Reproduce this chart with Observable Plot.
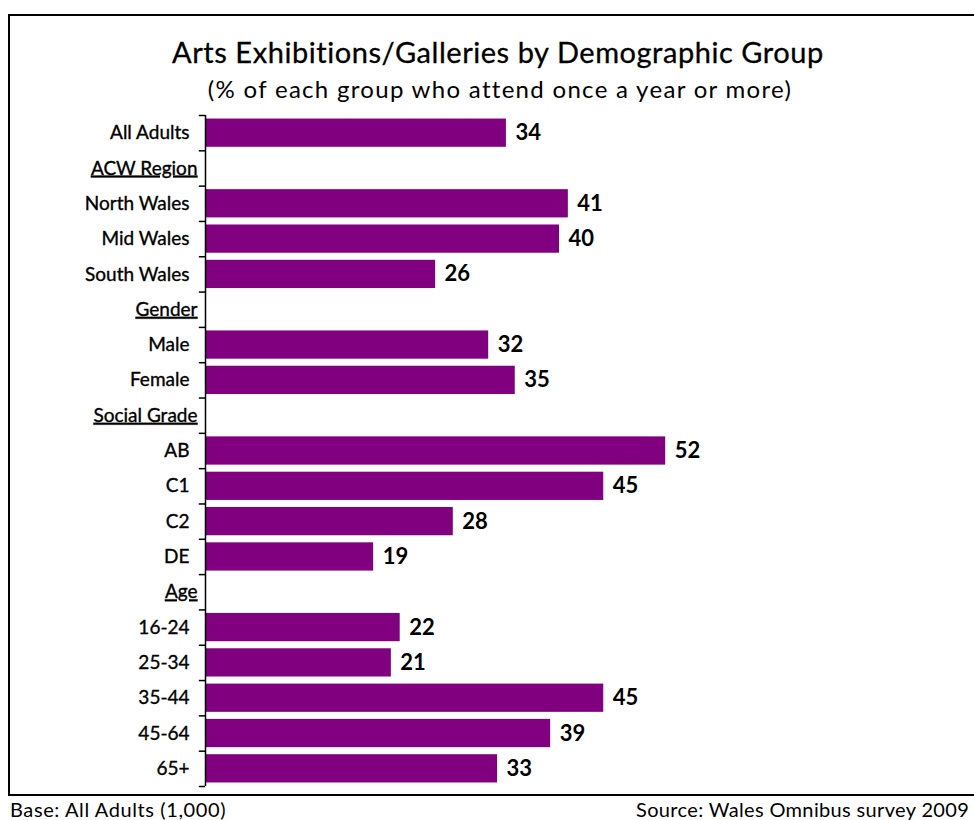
<!DOCTYPE html>
<html>
<head>
<meta charset="utf-8">
<script src="https://cdn.jsdelivr.net/npm/d3@7"></script>
<script src="https://cdn.jsdelivr.net/npm/@observablehq/plot@0.6"></script>
<style>
  body { margin: 0; background: #fff; font-family: Lato, "Noto Sans", sans-serif; }
  #wrap { position: relative; width: 974px; height: 820px; overflow: hidden; background: #fff; }
  #frame { position: absolute; left: 8px; top: 14px; width: 1000px; height: 782px; border: 2px solid #000; box-sizing: border-box; }
  #title { position: absolute; left: 0; width: 996px; top: 37px; text-align: center; font-size: 29px; line-height: 29px; letter-spacing: 0.55px; color: #000; -webkit-text-stroke: 0.3px #000; }
  #subtitle { position: absolute; left: 0; width: 1000px; top: 77px; text-align: center; font-size: 24px; line-height: 24px; letter-spacing: 1.3px; color: #000; }
  #base { position: absolute; left: 10px; top: 799px; font-size: 20px; line-height: 20px; letter-spacing: 0.6px; color: #000; }
  #source { position: absolute; left: 636px; top: 799px; font-size: 20px; line-height: 20px; letter-spacing: 0.35px; color: #000; white-space: nowrap; }
  #chart { position: absolute; left: 0; top: 0; }
  g[aria-description="header"] text { text-decoration: underline; }
</style>
</head>
<body>
<div id="wrap">
  <div id="frame"></div>
  <div id="title">Arts Exhibitions/Galleries by Demographic Group</div>
  <div id="subtitle">(% of each group who attend once a year or more)</div>
  <div id="chart"></div>
  <div id="base">Base: All Adults (1,000)</div>
  <div id="source">Source: Wales Omnibus survey 2009</div>
</div>
<script>
const categories = ["All Adults","ACW Region","North Wales","Mid Wales","South Wales","Gender","Male","Female","Social Grade","AB","C1","C2","DE","Age","16-24","25-34","35-44","45-64","65+"];
const values = [34,null,41,40,26,null,32,35,null,52,45,28,19,null,22,21,45,39,33];
const headers = ["ACW Region","Gender","Social Grade","Age"];

const rows = categories.map((c, i) => ({category: c, value: values[i], header: headers.includes(c)}));
const barRows = rows.filter(d => d.value != null);
const itemRows = rows.filter(d => !d.header);
const headerRows = rows.filter(d => d.header);

const W = 974, H = 820, mTop = 115, mBottom = 34, mLeft = 205, mRight = 61;
const step = (H - mTop - mBottom) / categories.length;

const plot = Plot.plot({
  width: W,
  height: H,
  marginTop: mTop,
  marginBottom: mBottom,
  marginLeft: mLeft,
  marginRight: mRight,
  style: {background: "transparent", fontFamily: "Lato, 'Noto Sans', sans-serif", overflow: "visible"},
  x: {domain: [0, 80], axis: null},
  y: {domain: categories, axis: null, paddingInner: 0.2, paddingOuter: 0.1, round: false},
  marks: [
    Plot.barX(barRows, {y: "category", x: "value", fill: "#800080"}),
    Plot.text(barRows, {y: "category", x: "value", text: d => String(d.value), textAnchor: "start", dx: 9, fontSize: 22, fontWeight: "bold", fill: "#000"}),
    Plot.text(itemRows, {y: "category", x: 0, text: "category", textAnchor: "end", dx: -16, fontSize: 19, fill: "#000", stroke: "#000", strokeWidth: 0.35}),
    Plot.text(headerRows, {y: "category", x: 0, text: "category", textAnchor: "end", dx: -8, fontSize: 19, fill: "#000", stroke: "#000", strokeWidth: 0.35, ariaDescription: "header"}),
    Plot.ruleX([0], {stroke: "#000", strokeWidth: 1.5}),
    Plot.ruleY(categories, {y: d => d, x1: -0.7, x2: 0, dy: -step / 2, stroke: "#000", strokeWidth: 1.5}),
    Plot.ruleY(categories.slice(-1), {y: d => d, x1: -0.7, x2: 0, dy: step / 2, stroke: "#000", strokeWidth: 1.5})
  ]
});
document.getElementById("chart").appendChild(plot);
</script>
</body>
</html>
